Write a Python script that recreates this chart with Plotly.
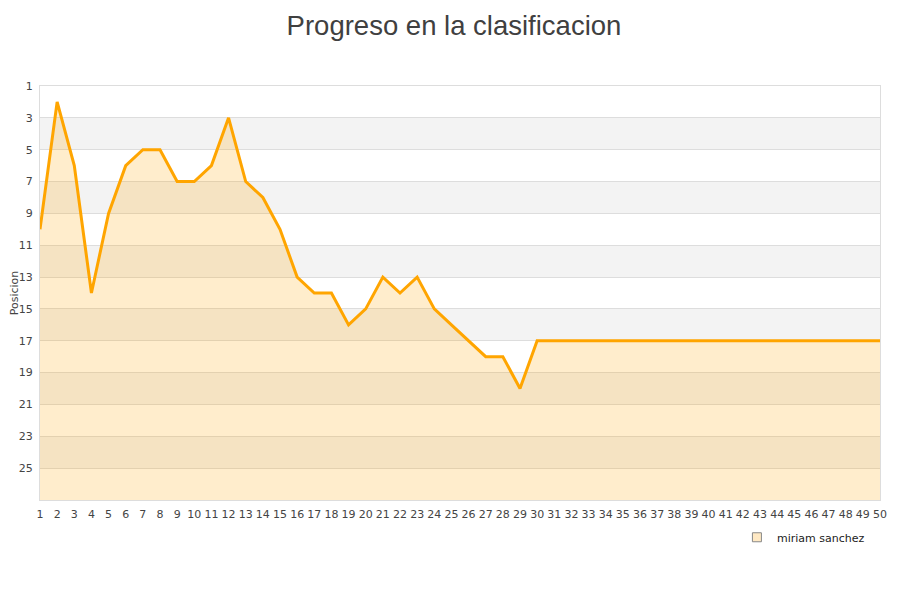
import plotly.graph_objects as go

jornadas = list(range(1, 51))
posicion = [10, 2, 6, 14, 9, 6, 5, 5, 7, 7,
            6, 3, 7, 8, 10, 13, 14, 14, 16, 15,
            13, 14, 13, 15, 16, 17, 18, 18, 20, 17,
            17, 17, 17, 17, 17, 17, 17, 17, 17, 17,
            17, 17, 17, 17, 17, 17, 17, 17, 17, 17]
y_ticks = list(range(1, 27, 2))
y_bottom = 27
y_top = 1
player = "miriam sanchez"
title = "Progreso en la clasificacion"

fig = go.Figure()

# baseline for fill (axis bottom)
fig.add_trace(go.Scatter(x=jornadas, y=[y_bottom] * len(jornadas), mode="lines",
                         line=dict(width=0, color="rgba(0,0,0,0)"),
                         showlegend=False, hoverinfo="skip"))
fig.add_trace(go.Scatter(x=jornadas, y=posicion, mode="lines", fill="tonexty",
                         fillcolor="rgba(255,165,0,0.2)",
                         line=dict(color="#FFA500", width=3),
                         showlegend=False, name=player))
# legend entry
fig.add_trace(go.Scatter(x=[None], y=[None], mode="markers", name=player,
                         marker=dict(symbol="square", size=9, color="#ffe9c4",
                                     line=dict(color="#888888", width=1))))

# alternating bands
bounds = y_ticks + [y_bottom]
shapes = []
for i in range(1, len(bounds) - 1, 2):
    shapes.append(dict(type="rect", xref="paper", yref="y", x0=0, x1=1,
                       y0=bounds[i], y1=bounds[i + 1], fillcolor="#f3f3f3",
                       line=dict(width=0), layer="below"))

fig.update_layout(
    width=892, height=592,
    margin=dict(l=32, r=20, t=78, b=100),
    paper_bgcolor="white", plot_bgcolor="white",
    title=dict(text=title, x=0.5, xanchor="center", y=0.971, yanchor="middle",
               font=dict(family="Liberation Sans, Arial", size=27.5, color="#404040")),
    shapes=shapes,
    showlegend=True,
    legend=dict(x=0.988, xanchor="right", y=-0.09, yanchor="middle",
                font=dict(family="DejaVu Sans", size=11, color="#222222"),
                bgcolor="rgba(0,0,0,0)", itemwidth=30),
    font=dict(family="DejaVu Sans", size=11, color="#444444"),
)
fig.update_xaxes(range=[1, 50], tickmode="array", tickvals=jornadas,
                 ticktext=[str(j) for j in jornadas], showgrid=False,
                 showline=True, linecolor="#dddddd", mirror=True, ticks="",
                 tickfont=dict(size=11, color="#444444"), zeroline=False,
                 ticklabelstandoff=4, automargin=False)
fig.update_yaxes(range=[y_bottom, y_top], tickmode="array", tickvals=y_ticks,
                 showgrid=True, gridcolor="#dddddd", gridwidth=1,
                 showline=True, linecolor="#dddddd", mirror=True, ticks="",
                 tickfont=dict(size=11, color="#444444"), zeroline=False,
                 ticklabelstandoff=4, automargin=False,
                 title=dict(text="Posicion", font=dict(size=11, color="#444444"), standoff=3))

fig.write_html("out.html")
